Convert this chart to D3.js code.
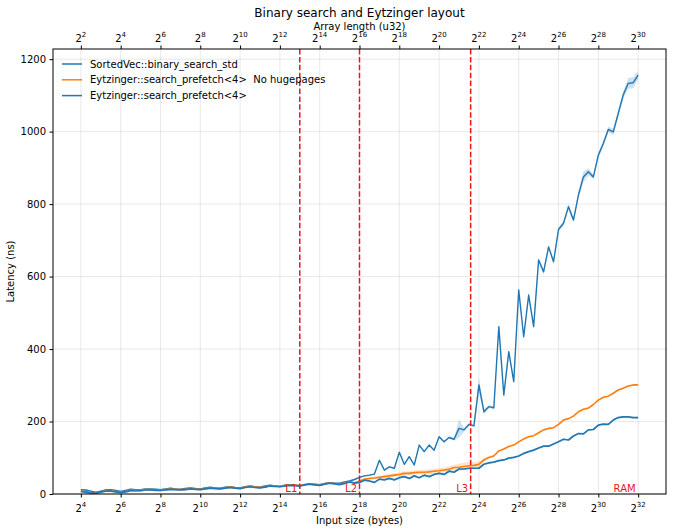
<!DOCTYPE html>
<html>
<head>
<meta charset="utf-8">
<script src="https://cdn.jsdelivr.net/npm/d3@7"></script>
<style>
  body { margin: 0; background: #fff; }
  text { font-family: "DejaVu Sans", sans-serif; }
</style>
</head>
<body>
<svg width="674" height="532"></svg>
<script>
// log2 of the input size in bytes, one point every quarter power of two
const sizeExp = d3.range(4, 32.001, 0.25);

const seriesNames = [
  'SortedVec::binary_search_std',
  'Eytzinger::search_prefetch<4>  No hugepages',
  'Eytzinger::search_prefetch<4>'
];

// SortedVec::binary_search_std (ns)
const svMean = [
  12, 11, 8, 5,   8, 11, 12, 10,   7, 10, 13, 12,   12, 14, 14, 13,
  12, 14, 16, 14,   13, 15, 17, 15,   14, 17, 19, 17,   16, 19, 20, 18,
  17, 20, 22, 20,   19, 22, 24, 22,   21, 24, 26, 25,   23, 26, 28, 27,
  26, 29, 31, 30,   30, 33, 36, 40,   46, 50, 52, 55,   93, 66, 75, 71,
  115, 82, 103, 80,   135, 117, 135, 121,   158, 144, 156, 151,   181, 177, 192, 188,
  301, 227, 241, 238,   462, 273, 393, 310,   563, 434, 549, 462,   646, 613, 682, 641,
  730, 747, 793, 756,   825, 875, 889, 875,   935, 967, 1006, 999,   1050, 1101, 1133, 1135,
  1156
];
const svErr = [
  2, 2, 2, 2,   2, 2, 2, 2,   2, 2, 2, 2,   2, 2, 2, 2,
  2, 2, 2, 2,   2, 2, 2, 2,   2, 2, 2, 2,   2, 2, 2, 2,
  2, 2, 2, 2,   2, 2, 2, 2,   2, 2, 2, 2,   2, 2, 2, 2,
  2, 2, 2, 2,   2, 2, 2, 2,   2, 2, 2, 2,   3, 2, 2, 2,
  3, 2, 3, 2,   3, 2, 3, 2,   3, 3, 3, 4,   25, 6, 4, 3,
  20, 8, 4, 4,   5, 4, 5, 4,   6, 5, 5, 5,   6, 6, 6, 6,
  6, 6, 8, 6,   8, 15, 10, 6,   8, 8, 8, 8,   8, 10, 15, 15,
  12
];

// Eytzinger::search_prefetch<4>, no hugepages (ns)
const eoMean = [
  8, 6, 4, 3,   6, 9, 9, 7,   5, 7, 10, 10,   10, 12, 12, 11,
  11, 12, 14, 13,   12, 13, 15, 14,   13, 15, 17, 16,   15, 17, 19, 17,
  16, 19, 21, 19,   18, 20, 23, 22,   21, 23, 25, 24,   23, 26, 28, 26,
  25, 28, 31, 29,   27, 30, 34, 31,   36, 41, 43, 44,   46, 48, 50, 52,
  54, 57, 57, 59,   60, 60, 61, 63,   64, 66, 68, 73,   74, 76, 78, 79,
  82, 94, 101, 105,   119, 124, 131, 135,   144, 152, 158, 161,   169, 177, 181, 183,
  192, 204, 208, 215,   227, 234, 237, 247,   259, 267, 270, 278,   287, 292, 298, 301,
  301
];
const eoErr = [
  1, 1, 1, 1,   1, 1, 1, 1,   1, 1, 1, 1,   1, 1, 1, 1,
  1, 1, 1, 1,   1, 1, 1, 1,   1, 1, 1, 1,   1, 1, 1, 1,
  1, 1, 1, 1,   1, 1, 1, 1,   1, 1, 1, 1,   1, 1, 1, 1,
  1, 1, 1, 1,   1, 1, 1, 1,   2, 3, 3, 4,   4, 5, 5, 5,
  5, 6, 6, 6,   6, 6, 7, 7,   7, 7, 8, 8,   10, 10, 10, 9,
  8, 6, 4, 3,   2, 2, 2, 2,   2, 2, 2, 2,   2, 2, 2, 2,
  2, 2, 2, 2,   2, 2, 2, 2,   2, 2, 2, 2,   2, 2, 2, 2,
  2
];

// Eytzinger::search_prefetch<4> (ns)
const eyMean = [
  7, 5, 3, 2,   5, 8, 8, 6,   4, 6, 9, 9,   9, 11, 11, 10,
  10, 11, 13, 12,   11, 12, 14, 13,   12, 14, 16, 15,   14, 16, 18, 16,
  15, 18, 20, 18,   17, 19, 22, 21,   20, 22, 24, 23,   22, 25, 27, 25,
  24, 27, 30, 28,   26, 29, 33, 30,   32, 38, 36, 32,   41, 39, 43, 39,
  45, 48, 43, 50,   45, 52, 48, 54,   57, 54, 63, 60,   69, 69, 71, 71,
  71, 82, 86, 88,   92, 94, 99, 101,   105, 112, 117, 121,   127, 132, 132, 138,
  144, 151, 149, 160,   167, 166, 177, 178,   190, 193, 192, 204,   211, 213, 213, 211,
  211
];
const eyErr = [
  2, 2, 2, 2,   2, 2, 2, 2,   2, 2, 2, 2,   2, 2, 2, 2,
  2, 2, 2, 2,   2, 2, 2, 2,   2, 2, 2, 2,   2, 2, 2, 2,
  2, 2, 2, 2,   2, 2, 2, 2,   2, 2, 2, 2,   2, 2, 2, 2,
  2, 2, 2, 2,   2, 2, 2, 2,   2, 2, 2, 2,   2, 2, 2, 2,
  2, 2, 2, 2,   2, 2, 2, 2,   2, 2, 2, 2,   2, 2, 2, 2,
  2, 2, 2, 2,   2, 2, 2, 2,   2, 2, 2, 2,   2, 2, 2, 2,
  2, 2, 2, 2,   2, 2, 2, 2,   2, 2, 2, 2,   2, 2, 2, 2,
  2
];

// cache boundaries (bytes)
const cacheNames = ['L1', 'L2', 'L3', 'RAM'];
const cacheSizes = [2 ** 15, 2 ** 18, 12 * 2 ** 20, 2 ** 32];

const bottomTicks = d3.range(4, 33, 2).map(e => 2 ** e);   // bytes
const topTicks = d3.range(2, 31, 2).map(e => 2 ** e);      // u32 elements
const yTicks = [0, 200, 400, 600, 800, 1000, 1200];

const colors = ['#1f77b4', '#ff7f0e', '#1f77b4'];

const margin = { left: 53, right: 8, top: 49, bottom: 38 };
const svg = d3.select('svg');
const width = +svg.attr('width');
const height = +svg.attr('height');
const innerWidth = width - margin.left - margin.right;
const innerHeight = height - margin.top - margin.bottom;

const xScale = d3.scaleLog().base(2)
  .domain([2 ** 2.6, 2 ** 33.4])
  .range([0, innerWidth]);
const xTopScale = d3.scaleLog().base(2)
  .domain([2 ** 0.6, 2 ** 31.4])
  .range([0, innerWidth]);
const yScale = d3.scaleLinear()
  .domain([0, 1228])
  .range([innerHeight, 0]);

const g = svg.append('g')
  .attr('transform', `translate(${margin.left}, ${margin.top})`);

// grid
g.append('g').selectAll('line').data(bottomTicks).join('line')
  .attr('x1', d => xScale(d)).attr('x2', d => xScale(d))
  .attr('y1', 0).attr('y2', innerHeight)
  .attr('stroke', '#b0b0b0').attr('stroke-opacity', 0.35).attr('stroke-width', 0.8);
g.append('g').selectAll('line').data(yTicks).join('line')
  .attr('x1', 0).attr('x2', innerWidth)
  .attr('y1', d => yScale(d)).attr('y2', d => yScale(d))
  .attr('stroke', '#b0b0b0').attr('stroke-opacity', 0.35).attr('stroke-width', 0.8);

const series = [
  { mean: svMean, err: svErr, color: colors[0], width: 1.4 },
  { mean: eoMean, err: eoErr, color: colors[1], width: 1.6 },
  { mean: eyMean, err: eyErr, color: colors[2], width: 1.7 }
];

const area = s => d3.area()
  .x((d, i) => xScale(2 ** sizeExp[i]))
  .y0((d, i) => yScale(d - s.err[i]))
  .y1((d, i) => yScale(d + s.err[i]));
const line = d3.line()
  .x((d, i) => xScale(2 ** sizeExp[i]))
  .y(d => yScale(d));

series.forEach(s => {
  g.append('path')
    .datum(s.mean)
    .attr('fill', s.color)
    .attr('fill-opacity', 0.22)
    .attr('d', area(s));
  g.append('path')
    .datum(s.mean)
    .attr('fill', 'none')
    .attr('stroke', s.color)
    .attr('stroke-width', s.width)
    .attr('stroke-linejoin', 'round')
    .attr('d', line);
});

// cache boundaries
cacheSizes.forEach((c, i) => {
  if (cacheNames[i] !== 'RAM') {
    g.append('line')
      .attr('x1', xScale(c)).attr('x2', xScale(c))
      .attr('y1', 0).attr('y2', innerHeight)
      .attr('stroke', '#e8161b')
      .attr('stroke-width', 1.5)
      .attr('stroke-dasharray', '5.5,2.4');
  }
  g.append('text')
    .attr('x', xScale(c) - 2.5)
    .attr('y', innerHeight - 2)
    .attr('text-anchor', 'end')
    .attr('font-size', '10px')
    .attr('fill', '#e8161b')
    .text(cacheNames[i]);
});

// axes: tick marks from d3, power-of-two labels as separate texts
const pow2Labels = (sel, scale, ticks, y) => {
  const lab = sel.append('g');
  ticks.forEach(d => {
    const e = String(Math.round(Math.log2(d)));
    const baseW = 6.4;
    const expW = e.length * 4.5;
    const x0 = scale(d) - (baseW + expW) / 2;
    lab.append('text')
      .attr('x', x0).attr('y', y)
      .attr('font-size', '10px')
      .text('2');
    lab.append('text')
      .attr('x', x0 + baseW).attr('y', y - 4.7)
      .attr('font-size', '7px')
      .text(e);
  });
};

const xAxisG = g.append('g')
  .attr('transform', `translate(0, ${innerHeight})`)
  .call(d3.axisBottom(xScale).tickValues(bottomTicks).tickSize(3.5));
xAxisG.select('.domain').remove();
xAxisG.selectAll('.tick text').remove();
pow2Labels(g, xScale, bottomTicks, innerHeight + 17.5);

const xTopAxisG = g.append('g')
  .call(d3.axisTop(xTopScale).tickValues(topTicks).tickSize(3.5));
xTopAxisG.select('.domain').remove();
xTopAxisG.selectAll('.tick text').remove();
pow2Labels(g, xTopScale, topTicks, -7);

const yAxisG = g.append('g')
  .call(d3.axisLeft(yScale).tickValues(yTicks).tickSize(3.5).tickPadding(3.5)
    .tickFormat(d3.format('d')));
yAxisG.select('.domain').remove();
yAxisG.selectAll('.tick text')
  .attr('font-size', '10px')
  .attr('font-family', '"DejaVu Sans", sans-serif')
  .attr('fill', '#000');

// frame
g.append('rect')
  .attr('width', innerWidth).attr('height', innerHeight)
  .attr('fill', 'none').attr('stroke', '#000').attr('stroke-width', 1);

// legend
const legend = g.append('g').attr('transform', 'translate(9, 15)');
seriesNames.forEach((name, i) => {
  const row = legend.append('g').attr('transform', `translate(0, ${i * 15.8})`);
  row.append('line')
    .attr('x1', 0).attr('x2', 20)
    .attr('stroke', colors[i]).attr('stroke-width', 1.5);
  row.append('text')
    .attr('x', 28).attr('y', 3.6)
    .attr('font-size', '10px')
    .style('white-space', 'pre')
    .text(name);
});

// titles
svg.append('text')
  .attr('x', margin.left + innerWidth / 2).attr('y', 17)
  .attr('text-anchor', 'middle').attr('font-size', '12px')
  .text('Binary search and Eytzinger layout');
svg.append('text')
  .attr('x', margin.left + innerWidth / 2).attr('y', 30)
  .attr('text-anchor', 'middle').attr('font-size', '10px')
  .text('Array length (u32)');
svg.append('text')
  .attr('x', margin.left + innerWidth / 2).attr('y', 524)
  .attr('text-anchor', 'middle').attr('font-size', '10px')
  .text('Input size (bytes)');
svg.append('text')
  .attr('transform', `translate(14, ${margin.top + innerHeight / 2}) rotate(-90)`)
  .attr('text-anchor', 'middle').attr('font-size', '10px')
  .text('Latency (ns)');
</script>
</body>
</html>
